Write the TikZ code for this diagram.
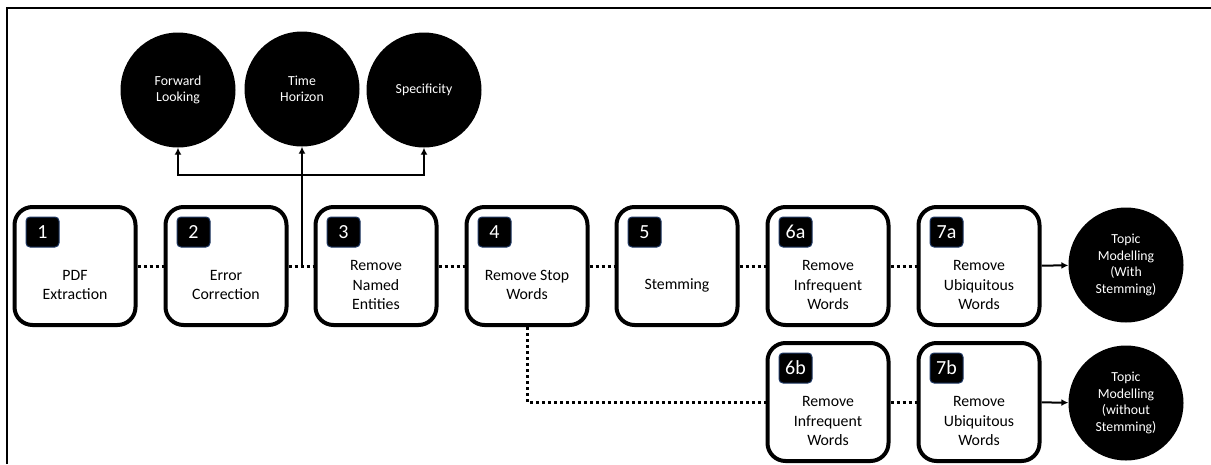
\documentclass[tikz,border=0pt]{standalone}
\usepackage{fontspec}
\setmainfont{Carlito}
\usepackage{tikz}
\usetikzlibrary{arrows.meta,positioning}

\definecolor{badgeline}{RGB}{31,56,100}

\begin{document}
\begin{tikzpicture}[x=1pt,y=-1pt,
	stage/.style={draw,line width=4pt,rounded corners=18pt,minimum width=121pt,minimum height=118pt,fill=white},
	badge/.style={draw=badgeline,fill=black,line width=1pt,rounded corners=4pt,minimum width=33pt,minimum height=30pt,inner sep=0pt,text=white,font=\fontsize{20}{22}\selectfont},
	words/.style={align=center,font=\fontsize{15.8}{19.5}\selectfont},
	topic/.style={circle,fill=black,minimum size=115pt,inner sep=0pt,text=white,align=center,font=\fontsize{13.8}{16.5}\selectfont},
	dots/.style={line width=3pt,dash pattern=on 3pt off 3pt},
	>={Latex[length=7pt,width=7pt]}]
	\useasboundingbox (0,0) rectangle (1211,464);
	\draw[line width=2pt] (7,464) -- (7,8) -- (1211,8);
	
	% top row of stages
	\node[stage] (s_1) at (75,266) {};
	\node[stage] (s_2) at (226,266) {};
	\node[stage] (s_3) at (376,266) {};
	\node[stage] (s_4) at (527,266) {};
	\node[stage] (s_5) at (677,266) {};
	\node[stage] (s_6a) at (828,266) {};
	\node[stage] (s_7a) at (979,266) {};
	% bottom row
	\node[stage] (s_6b) at (828,402) {};
	\node[stage] (s_7b) at (979,402) {};
	
	\node[badge] at ([shift={(30,27)}]s_1.north west) {1};
	\node[badge] at ([shift={(30,27)}]s_2.north west) {2};
	\node[badge] at ([shift={(30,27)}]s_3.north west) {3};
	\node[badge] at ([shift={(30,27)}]s_4.north west) {4};
	\node[badge] at ([shift={(30,27)}]s_5.north west) {5};
	\node[badge] at ([shift={(30,27)}]s_6a.north west) {6a};
	\node[badge] at ([shift={(30,27)}]s_7a.north west) {7a};
	\node[badge] at ([shift={(30,27)}]s_6b.north west) {6b};
	\node[badge] at ([shift={(30,27)}]s_7b.north west) {7b};
	
	\node[words] at ([yshift=-19]s_1.center) {PDF\\Extraction};
	\node[words] at ([yshift=-19]s_2.center) {Error\\Correction};
	\node[words] at ([yshift=-19]s_3.center) {Remove\\Named\\Entities};
	\node[words] at ([yshift=-19]s_4.center) {Remove Stop\\Words};
	\node[words] at ([yshift=-19]s_5.center) {Stemming};
	\node[words] at ([yshift=-19]s_6a.center) {Remove\\Infrequent\\Words};
	\node[words] at ([yshift=-19]s_7a.center) {Remove\\Ubiquitous\\Words};
	\node[words] at ([yshift=-19]s_6b.center) {Remove\\Infrequent\\Words};
	\node[words] at ([yshift=-19]s_7b.center) {Remove\\Ubiquitous\\Words};
	
	% measures and topic models
	\node[topic] (m_1) at (178,90) {Forward\\Looking};
	\node[topic] (m_2) at (302,89) {Time\\Horizon};
	\node[topic] (m_3) at (424,90) {Specificity};
	\node[topic] (tm_a) at (1126,265) {Topic\\Modelling\\(With\\Stemming)};
	\node[topic] (tm_b) at (1126,403) {Topic\\Modelling\\(without\\Stemming)};
	
	\coordinate (fork) at (302,175);
	\coordinate (tap) at (302,266);
	
	\path[dots]
	(s_1) edge (s_2)
	(s_2) edge (s_3)
	(s_3) edge (s_4)
	(s_4) edge (s_5)
	(s_5) edge (s_6a)
	(s_6a) edge (s_7a)
	(s_6b) edge (s_7b);
	\draw[dots] (s_4.south) |- (s_6b.west);
	
	\draw[line width=2pt,->] (tap) -- (m_2);
	\draw[line width=2pt,->] (fork) -| (m_1);
	\draw[line width=2pt,->] (fork) -| (m_3);
	\draw[line width=2pt,->] (s_7a) -- (tm_a);
	\draw[line width=2pt,->] (s_7b) -- (tm_b);
\end{tikzpicture}
\end{document}
